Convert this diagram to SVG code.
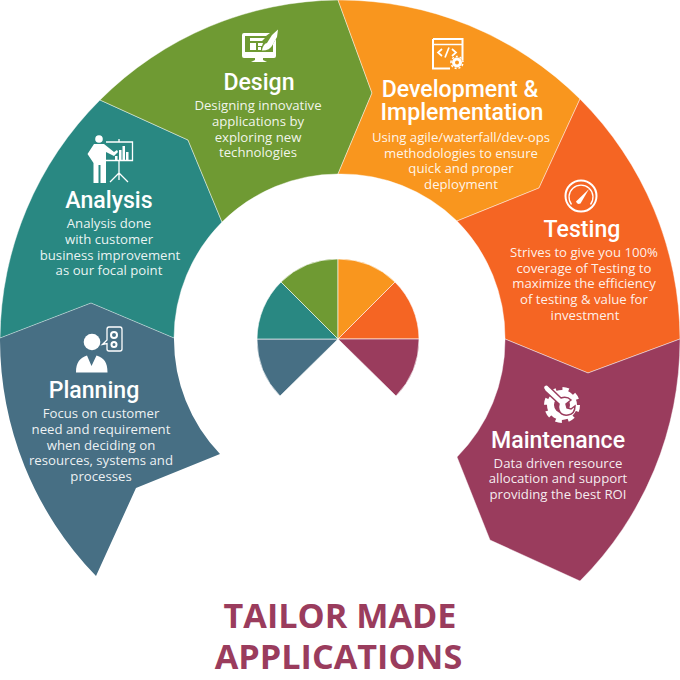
<svg xmlns="http://www.w3.org/2000/svg" width="680" height="680" viewBox="0 0 680 680">
<style>
.seg{stroke:#fff;stroke-opacity:.55;stroke-width:.8}
.h{font-family:Roboto,"Liberation Sans",sans-serif;font-weight:500;font-size:23.1px;fill:#fff;text-anchor:middle}
.b{font-family:"Open Sans","Liberation Sans",sans-serif;font-size:13.2px;fill:#fff;fill-opacity:.92;text-anchor:middle}
.t{font-family:"Open Sans","Liberation Sans",sans-serif;font-weight:700;font-size:34.200px;fill:#9a3c5d;text-anchor:middle}
.i{fill:#fff}
.l{fill:none;stroke:#fff;stroke-width:2}
.pl{fill:#476f84}.an{fill:#298882}.de{fill:#6f9a33}.dv{fill:#f9961e}.te{fill:#f56523}.ma{fill:#9a3c5d}
.p{stroke:#fff;stroke-opacity:.6;stroke-width:1}
</style>
<rect width="680" height="680" fill="#fff"/>
<g id="pie">
<path class="pl p" d="M338 339H257A81 81 0 0 0 280 396Z"/>
<path class="an p" d="M338 339L281 282A81 81 0 0 0 257 339Z"/>
<path class="de p" d="M338 339V259A81 81 0 0 0 281 282Z"/>
<path class="dv p" d="M338 339V259A81 81 0 0 1 395 282Z"/>
<path class="te p" d="M338 339L395 282A81 81 0 0 1 419 339Z"/>
<path class="ma p" d="M338 339H419A81 81 0 0 1 396 396Z"/>
</g>
<g id="planning">
<path class="pl" d="M0 338L91 303L174 338A165.500 165.500 0 0 0 220 454L136 488L96 576A340 340 0 0 1 0 338Z"/>
<g>
<circle class="i" cx="92" cy="342" r="8.300"/>
<path class="i" d="M76 372.500C76 362 80 358 87 355.500L91.500 366L96.500 355.500C104 358 107.500 362 107.500 372.500Z"/>
<path class="l" style="stroke-width:1.300" d="M107 329.500Q107 327 109 327H120Q122 327 122 329.500V349Q122 351 120 351H109Q107 351 107 349V343.500L102.500 344.500L107 340Z"/>
<circle class="l" cx="114" cy="335" r="3"/><circle class="l" cx="114" cy="344.500" r="2.500"/>
</g>
<text class="h" x="94" y="398">Planning</text>
<text class="b"><tspan x="101" y="418">Focus on customer</tspan><tspan x="101" y="434">need and requirement</tspan><tspan x="101" y="450">when deciding on</tspan><tspan x="101" y="465">resources, systems and</tspan><tspan x="101" y="481">processes</tspan></text>
</g>
<g id="analysis">
<path class="an seg" d="M0 338A340 340 0 0 1 100 100L188 140L222 222A165.500 165.500 0 0 0 174 338L91 303Z"/>
<g>
<circle class="i" cx="99" cy="139" r="3.800"/>
<path class="i" d="M94 144L104 144L114 152L117 150L118 152L114 156L106 152V183H100.500V165H98.500V183H93.500V163L87.500 154Z"/>
<path class="l" style="stroke-width:1.300" d="M106 142H132.500V160.500H106M119 139V142M119 160.500V173M119 173L110 182M119 173L128 182M119 173V180"/>
<path class="i" d="M115 156h2.500v4h-2.500zM119 150h2.500v10h-2.500zM122.500 146h2.500v14h-2.500zM126 152h2.500v8h-2.500z"/>
</g>
<text class="h" x="109" y="208">Analysis</text>
<text class="b"><tspan x="109" y="228">Analysis done</tspan><tspan x="109" y="244">with customer</tspan><tspan x="110" y="260">business improvement</tspan><tspan x="109" y="275">as our focal point</tspan></text>
</g>
<g id="design">
<path class="de seg" d="M100 100A340 340 0 0 1 338 0L372 93L338 174A165.500 165.500 0 0 0 222 222L188 140Z"/>
<g>
<path class="i" fill-rule="evenodd" d="M244 33H270L266 36H245V52H273V44L276 39V56Q276 58 274 58H263V60L267 62H251L255 60V58H244Q242 58 242 56V35Q242 33 244 33Z"/>
<path class="i" d="M250 38H265L262 41H250ZM250 43H256V50H250ZM258 43H263L262 46H258ZM258 47H261V50H258Z"/>
<path class="i" d="M262 50.500Q263 44 267 43L272 35L278 29.500L277 37L272.500 45Q270 50.500 262 50.500Z"/>
</g>
<text class="h" x="259" y="90">Design</text>
<text class="b"><tspan x="258" y="110">Designing innovative</tspan><tspan x="258" y="126">applications by</tspan><tspan x="258" y="142">exploring new</tspan><tspan x="258" y="157">technologies</tspan></text>
</g>
<g id="development">
<path class="dv seg" d="M338 0A340 340 0 0 1 580 99L539 188L457 221A165.500 165.500 0 0 0 338 174L372 93Z"/>
<g>
<path class="l" d="M433 39H462.500V60M433 39V68.500H450"/>
<path class="l" style="stroke-width:1.500" d="M433 44.500H462.500"/>
<path class="l" style="stroke-width:1.700" d="M442 49L438 52.500L442 56M452 49L456 52.500L452 56M449 47.500L445 57.500"/>
<circle class="l" style="stroke-width:3" cx="457" cy="62.500" r="3.500"/>
<path class="l" style="stroke-width:1.500" stroke-dasharray="2 2" d="M451 62.500a6 6 0 1 1 12 0a6 6 0 1 1 -12 0"/>
</g>
<text class="h"><tspan x="460" y="97">Development &amp;</tspan><tspan x="462" y="120">Implementation</tspan></text>
<text class="b"><tspan x="461" y="142">Using agile/waterfall/dev-ops</tspan><tspan x="461" y="158">methodologies to ensure</tspan><tspan x="461" y="173">quick and proper</tspan><tspan x="461" y="189">deployment</tspan></text>
</g>
<g id="testing">
<path class="te seg" d="M580 99A340 340 0 0 1 680 339L588 373L505 339A165.500 165.500 0 0 0 457 221L539 188Z"/>
<g>
<circle class="l" cx="581" cy="196" r="15.500"/>
<path class="l" style="stroke-width:1.300" d="M571.500 204.500A12 12 0 1 1 590.500 204.500"/>
<path class="i" d="M576 201.500L589 189L580.500 203.500Q577 205 576 201.500Z"/>
</g>
<text class="h" x="582" y="237">Testing</text>
<text class="b"><tspan x="584" y="257">Strives to give you 100%</tspan><tspan x="584" y="273">coverage of Testing to</tspan><tspan x="584" y="288">maximize the efficiency</tspan><tspan x="584" y="304">of testing &amp; value for</tspan><tspan x="585" y="320">investment</tspan></text>
</g>
<g id="maintenance">
<path class="ma seg" d="M505 339L588 373L680 339A340 340 0 0 1 580 581L490 540L457 457A165.500 165.500 0 0 0 505 339Z"/>
<g>
<circle fill="none" stroke="#fff" stroke-width="7" cx="562" cy="405" r="11.500"/>
<circle fill="none" stroke="#fff" stroke-width="4" stroke-dasharray="6.280 6.280" cx="562" cy="405" r="16"/>
<circle class="ma" cx="563" cy="407" r="5"/>
<path class="i" stroke="#9a3c5d" stroke-width="1.500" d="M543.500 388.500A3 3 0 0 1 547.500 385L561 398Q567 396 571 400L566 404L567 408L571 409L575 406Q575 414 568 415Q561 416 559 410Q558 407 559 404L545 391Z"/>
</g>
<text class="h" x="558" y="448">Maintenance</text>
<text class="b"><tspan x="558" y="468">Data driven resource</tspan><tspan x="558" y="483">allocation and support</tspan><tspan x="558" y="499">providing the best ROI</tspan></text>
</g>
<g id="title">
<text class="t" x="340" y="628">TAILOR MADE</text>
<text class="t" x="338.500" y="669">APPLICATIONS</text>
</g>
<g id="connectors"/>
</svg>
